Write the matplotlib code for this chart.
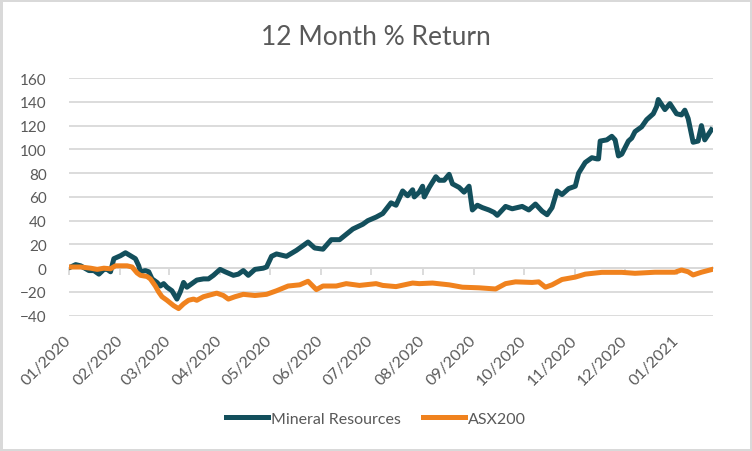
import matplotlib
matplotlib.use("Agg")
import matplotlib.pyplot as plt
import matplotlib.dates as mdates
import pandas as pd

plt.rcParams['font.family'] = ['Lato', 'DejaVu Sans']

# Mineral Resources 12 month % return
mr_dates = [
    "2020-01-02", "2020-01-05", "2020-01-08", "2020-01-13", "2020-01-16", "2020-01-19",
    "2020-01-22", "2020-01-24", "2020-01-26", "2020-01-28", "2020-02-01", "2020-02-04",
    "2020-02-07", "2020-02-10", "2020-02-12", "2020-02-13", "2020-02-16", "2020-02-18",
    "2020-02-20", "2020-02-23", "2020-02-25", "2020-02-27", "2020-02-29", "2020-03-03",
    "2020-03-06", "2020-03-08", "2020-03-10", "2020-03-12", "2020-03-15", "2020-03-18",
    "2020-03-22", "2020-03-25", "2020-03-28", "2020-04-01", "2020-04-04", "2020-04-09",
    "2020-04-12", "2020-04-15", "2020-04-18", "2020-04-22", "2020-04-27", "2020-04-29",
    "2020-05-02", "2020-05-05", "2020-05-08", "2020-05-11", "2020-05-17", "2020-05-21",
    "2020-05-24", "2020-05-28", "2020-06-02", "2020-06-07", "2020-06-12", "2020-06-20",
    "2020-06-26", "2020-06-29", "2020-07-04", "2020-07-08", "2020-07-13", "2020-07-16",
    "2020-07-20", "2020-07-23", "2020-07-26", "2020-07-27", "2020-07-30", "2020-08-01",
    "2020-08-02", "2020-08-05", "2020-08-09", "2020-08-11", "2020-08-14", "2020-08-17",
    "2020-08-19", "2020-08-23", "2020-08-26", "2020-08-29", "2020-08-31", "2020-09-03",
    "2020-09-06", "2020-09-10", "2020-09-13", "2020-09-15", "2020-09-20", "2020-09-24",
    "2020-09-30", "2020-10-04", "2020-10-08", "2020-10-12", "2020-10-15", "2020-10-18",
    "2020-10-21", "2020-10-24", "2020-10-28", "2020-11-01", "2020-11-03", "2020-11-07",
    "2020-11-11", "2020-11-14", "2020-11-15", "2020-11-16", "2020-11-20", "2020-11-23",
    "2020-11-25", "2020-11-27", "2020-11-29", "2020-12-03", "2020-12-05", "2020-12-07",
    "2020-12-11", "2020-12-14", "2020-12-18", "2020-12-20", "2020-12-21", "2020-12-25",
    "2020-12-28", "2021-01-01", "2021-01-04", "2021-01-06", "2021-01-08", "2021-01-11",
    "2021-01-14", "2021-01-16", "2021-01-18", "2021-01-22",
]
mr_return = [
    1, 3, 2, -2, -2, -5,
    -1, -1, -3, 8, 10.5, 13,
    10.5, 8, 2, -3, -2, -3,
    -9, -12, -15, -13, -16, -19,
    -26, -20, -12, -16, -13, -10,
    -9, -9, -6, -1, -3, -6,
    -5, -2, -6, -1, 0, 1,
    10, 12, 11, 10, 15, 19,
    22, 17, 16, 24, 24, 33,
    37, 40, 43, 46, 55, 53,
    65, 61, 66, 60, 64, 69,
    60, 68, 77, 74, 74, 79,
    71, 68, 64, 69, 49, 53,
    51, 49, 47, 44.5, 52, 50,
    52, 49, 54, 48, 45, 51,
    65, 62, 67, 69, 80, 89,
    93, 92, 92, 107, 108, 111,
    108, 94.5, 96, 107, 109.5, 115,
    119, 125, 130, 136, 142, 133.5,
    138.5, 130, 129, 133, 126, 106,
    107, 120, 108, 116.5,
]

# ASX200 12 month % return
asx_dates = [
    "2020-01-02", "2020-01-08", "2020-01-14", "2020-01-18", "2020-01-22", "2020-01-26",
    "2020-01-29", "2020-02-05", "2020-02-08", "2020-02-11", "2020-02-13", "2020-02-17",
    "2020-02-19", "2020-02-22", "2020-02-24", "2020-02-26", "2020-02-29", "2020-03-04",
    "2020-03-07", "2020-03-10", "2020-03-13", "2020-03-16", "2020-03-18", "2020-03-22",
    "2020-03-26", "2020-03-30", "2020-04-03", "2020-04-06", "2020-04-10", "2020-04-15",
    "2020-04-22", "2020-04-29", "2020-05-05", "2020-05-12", "2020-05-19", "2020-05-24",
    "2020-05-29", "2020-06-02", "2020-06-10", "2020-06-16", "2020-06-24", "2020-07-04",
    "2020-07-08", "2020-07-16", "2020-07-26", "2020-07-30", "2020-08-07", "2020-08-17",
    "2020-08-25", "2020-09-04", "2020-09-14", "2020-09-20", "2020-09-26", "2020-10-06",
    "2020-10-10", "2020-10-14", "2020-10-18", "2020-10-24", "2020-11-01", "2020-11-07",
    "2020-11-17", "2020-11-29", "2020-12-07", "2020-12-19", "2020-12-31", "2021-01-04",
    "2021-01-08", "2021-01-11", "2021-01-16", "2021-01-22",
]
asx_return = [
    1, 1, 0, -1, 0, -0.5,
    2, 2, 1, -4, -6, -7,
    -9, -15, -20, -24, -27, -31.5,
    -34, -30, -27, -26, -27, -24,
    -22.5, -21, -23, -26, -24, -22,
    -23, -22, -19, -15, -14, -11,
    -18, -15, -15, -13, -14.5, -13,
    -14.5, -15.5, -12.5, -13, -12.5, -14,
    -16, -16.5, -17.5, -13, -11.5, -12,
    -11.5, -16, -14, -9.5, -7.5, -5,
    -3.5, -3.5, -4.3, -3.4, -3.4, -1.5,
    -3, -5.7, -3.4, -1.2,
]

title = "12 Month % Return"
series_names = ["Mineral Resources", "ASX200"]
teal = "#134f5c"
orange = "#f0821e"
grid_grey = "#d9d9d9"
text_grey = "#595959"

mr_x = pd.to_datetime(mr_dates)
asx_x = pd.to_datetime(asx_dates)

fig = plt.figure(figsize=(7.52, 4.52), dpi=100)
fig.patch.set_edgecolor(grid_grey)
fig.patch.set_linewidth(2.5)
ax = fig.add_axes([0.0918, 0.2993, 0.8564, 0.5257])

ax.plot(mr_x, mr_return, color=teal, lw=3.6, solid_joinstyle='round', label=series_names[0], zorder=3)
ax.plot(asx_x, asx_return, color=orange, lw=3.6, solid_joinstyle='round', label=series_names[1], zorder=3)

ax.set_ylim(-40, 160)
ax.set_yticks(range(-40, 161, 20))
ax.set_xlim(pd.Timestamp("2020-01-01"), pd.Timestamp("2021-01-23"))
ax.grid(axis='y', color=grid_grey, lw=1.3)
ax.set_axisbelow(True)
for s in ax.spines.values():
    s.set_visible(False)

months = mdates.MonthLocator()
ax.xaxis.set_major_locator(months)
ax.xaxis.set_major_formatter(mdates.DateFormatter("%m/%Y"))
ax.tick_params(axis='x', length=0, pad=16, labelsize=11.5, labelcolor=text_grey)
ax.tick_params(axis='y', length=0, pad=16, labelsize=11, labelcolor=text_grey)
for lab in ax.get_xticklabels():
    lab.set_rotation(45)
    lab.set_ha('right')
    lab.set_va('center')
    lab.set_rotation_mode('anchor')

# horizontal axis line crossing at zero, with tick marks
zero_ax = ax.secondary_xaxis(0.2)
zero_ax.xaxis.set_major_locator(mdates.MonthLocator())
zero_ax.tick_params(axis='x', direction='out', length=5, width=1.3, color=grid_grey, labelbottom=False)
zero_ax.spines['bottom'].set_color(grid_grey)
zero_ax.spines['bottom'].set_linewidth(1.3)

fig.text(0.5, 0.916, title, ha='center', va='center', fontsize=19, color=text_grey)

fig.legend(loc='center', bbox_to_anchor=(0.5, 0.071), ncol=2, frameon=False,
           fontsize=11.5, labelcolor=text_grey, handlelength=2.6, handletextpad=0.2,
           columnspacing=1.4)

fig.savefig("out.png", dpi=100)
